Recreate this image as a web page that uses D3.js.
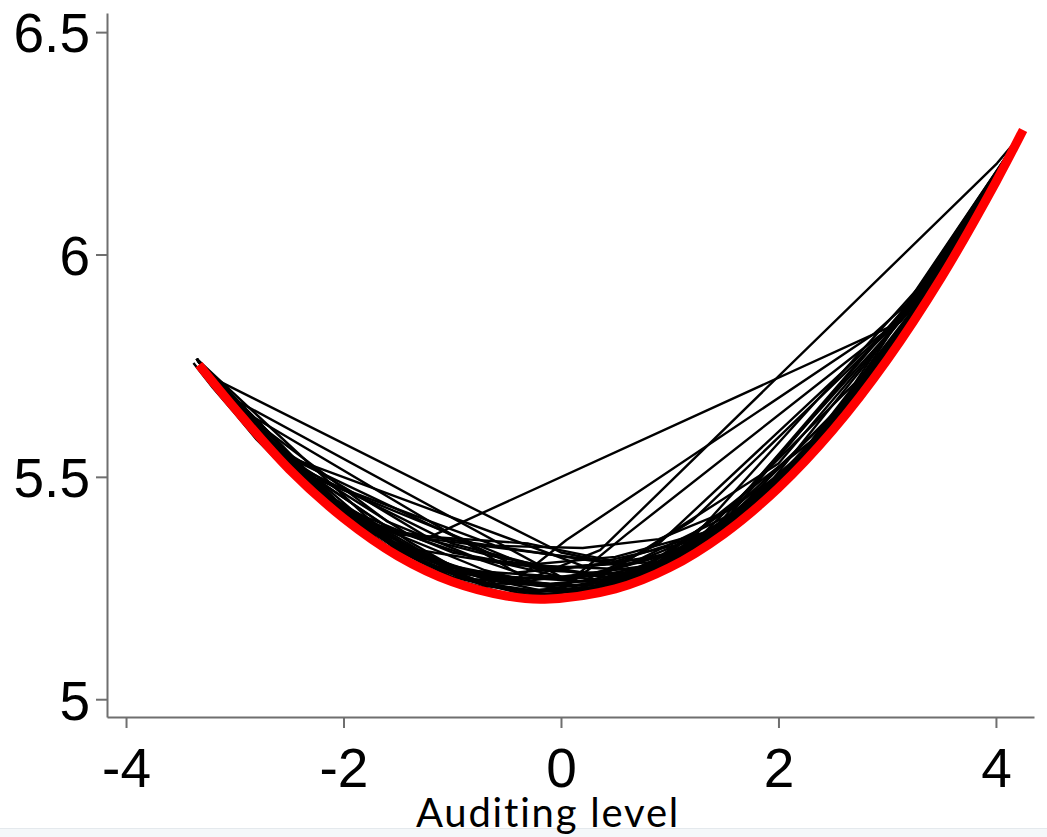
<!DOCTYPE html>
<html><head><meta charset="utf-8">
<script src="https://cdn.jsdelivr.net/npm/d3@7"></script>
<style>body{margin:0;background:#fff;overflow:hidden} svg{display:block}</style>
</head><body>
<svg id="c" width="1047" height="837"></svg>
<script>
// ---- data ----
const xTicks = [-4, -2, 0, 2, 4];
const yTicks = [5, 5.5, 6, 6.5];
const yTickLabels = ["5", "5.5", "6", "6.5"];
const xLabel = "Auditing level";

// red fitted curve
const fitX = [-3.33, -3.0, -2.5, -2.0, -1.5, -1.0, -0.5, -0.15, 0.5, 1.0, 1.5, 2.0, 2.5, 3.0, 3.5, 4.0, 4.25];
const fitY = [5.752, 5.654, 5.517, 5.407, 5.322, 5.264, 5.232, 5.225, 5.248, 5.296, 5.372, 5.475, 5.605, 5.763, 5.949, 6.163, 6.28];

// black sample curves (x, y vertices)
const sampleCurves = [
  [[-3.38,5.756],[-3.2,5.70],[-3.0,5.643],[-2.8,5.584],[-2.6,5.535],[-2.4,5.494],[-2.0,5.41],[-1.5,5.327],[-1.0,5.27],[-0.5,5.238],[0,5.232],[0.5,5.255],[1.0,5.30],[1.5,5.378],[2.0,5.48],[2.5,5.61],[3.0,5.768],[3.5,5.95],[4.0,6.165],[4.2,6.255]],
  [[-3.30,5.749],[-3.20,5.722],[0.0,5.33],[0.6,5.30],[1.4,5.38],[2.2,5.54],[3.0,5.78],[4.2,6.258]],
  [[-3.35,5.765],[-2.6,5.55],[-1.9,5.40],[-1.25,5.36],[3.12,5.848],[3.5,5.955],[4.0,6.168]],
  [[-3.35,5.765],[-3.11,5.688],[0.0,5.275],[0.6,5.285],[1.4,5.37],[2.2,5.535],[3.0,5.77],[3.8,6.08],[4.2,6.258]],
  [[-3.35,5.765],[-3.02,5.662],[-0.38,5.28],[0.4,5.26],[1.2,5.335],[2.0,5.49],[2.8,5.705],[3.6,6.0],[4.2,6.258]],
  [[-3.35,5.765],[-2.6,5.55],[-1.8,5.385],[-1.0,5.29],[-0.3,5.27],[0.36,5.335],[4.01,6.205],[4.2,6.26]],
  [[-3.35,5.765],[-2.8,5.60],[-2.0,5.43],[-1.2,5.31],[-0.4,5.27],[0.05,5.358],[2.87,5.82],[3.5,5.96],[4.2,6.258]],
  [[-3.35,5.765],[-2.4,5.50],[-1.4,5.33],[-0.6,5.265],[0.0,5.25],[0.6,5.37],[3.1,5.85],[3.6,6.0],[4.2,6.258]],
  [[-3.35,5.765],[-2.2,5.46],[-1.0,5.285],[0.2,5.25],[1.2,5.40],[3.15,5.86],[4.0,6.17]],
  [[-3.35,5.765],[-2.5,5.53],[-1.5,5.34],[-0.5,5.26],[0.8,5.30],[1.6,5.44],[3.3,5.90],[4.0,6.17]],
  [[-3.33,5.76],[-1.9,5.40],[-0.9,5.29],[0.3,5.27],[1.0,5.305],[3.73,6.045],[4.2,6.258]],
  [[-3.35,5.765],[-2.56,5.55],[-0.5,5.31],[0.5,5.27],[1.5,5.39],[2.5,5.62],[3.5,5.955],[4.2,6.258]],
  [[-3.35,5.765],[-2.56,5.55],[0.2,5.30],[1.0,5.31],[2.0,5.49],[3.0,5.77],[4.2,6.258]],
  [[-3.35,5.765],[-2.4,5.51],[-0.2,5.29],[0.7,5.28],[1.8,5.45],[2.6,5.65],[3.4,5.92],[4.2,6.258]],
  [[-3.35,5.765],[-2.7,5.58],[-1.2,5.36],[0.4,5.31],[1.3,5.36],[2.4,5.59],[4.2,6.258]],
  [[-3.35,5.765],[-2.3,5.48],[-1.6,5.38],[0.6,5.30],[1.6,5.42],[2.9,5.74],[4.2,6.258]],
  [[-3.35,5.765],[-2.0,5.43],[-1.0,5.33],[-0.1,5.29],[0.9,5.32],[2.1,5.52],[3.3,5.88],[4.2,6.258]],
  [[-3.35,5.765],[-2.8,5.60],[-2.2,5.455],[-1.6,5.345],[-1.0,5.275],[-0.4,5.24],[0.2,5.245],[0.8,5.285],[1.4,5.365],[2.0,5.485],[2.6,5.645],[3.2,5.84],[3.8,6.08],[4.2,6.258]],
  [[-3.35,5.765],[-2.6,5.555],[-1.9,5.40],[-1.3,5.31],[-0.7,5.255],[-0.1,5.235],[0.5,5.26],[1.1,5.32],[1.7,5.42],[2.3,5.56],[2.9,5.735],[3.5,5.955],[4.2,6.258]],
  [[-3.35,5.765],[-2.4,5.50],[-1.5,5.34],[-0.8,5.27],[-0.3,5.26],[0.3,5.255],[0.9,5.30],[1.5,5.385],[2.1,5.51],[2.7,5.67],[3.3,5.88],[4.2,6.258]],
  [[-3.35,5.765],[-3.0,5.66],[-2.0,5.43],[-1.1,5.30],[-0.5,5.27],[0.1,5.245],[0.7,5.29],[1.3,5.35],[2.0,5.48],[2.8,5.70],[3.6,5.995],[4.2,6.258]],
  [[-3.35,5.765],[-1.7,5.39],[-1.2,5.31],[-0.6,5.275],[0,5.27],[0.4,5.28],[1.0,5.31],[1.8,5.44],[2.5,5.61],[3.5,5.95],[4.2,6.258]],
  [[-3.35,5.765],[-2.5,5.535],[-1.4,5.355],[-0.9,5.285],[-0.2,5.255],[0.6,5.275],[1.2,5.33],[2.2,5.53],[3.1,5.80],[4.2,6.258]],
  [[-3.35,5.765],[-2.9,5.63],[-1.8,5.40],[-0.7,5.29],[0.0,5.245],[0.3,5.30],[1.1,5.33],[1.9,5.46],[2.7,5.675],[3.7,6.035],[4.2,6.258]],
  [[-3.35,5.765],[-2.1,5.45],[-1.3,5.335],[-0.4,5.30],[0.5,5.32],[1.4,5.38],[2.4,5.585],[3.4,5.915],[4.2,6.258]],
  [[-3.35,5.765],[-2.7,5.575],[-2.1,5.44],[-1.5,5.335],[-0.9,5.27],[-0.3,5.245],[0.3,5.25],[0.9,5.295],[1.5,5.385],[2.1,5.515],[2.7,5.675],[3.3,5.885],[3.9,6.12],[4.2,6.258]],
  [[-3.35,5.765],[-2.3,5.48],[-1.7,5.37],[-1.1,5.29],[-0.5,5.25],[0.1,5.24],[0.7,5.275],[1.3,5.345],[1.9,5.46],[2.5,5.62],[3.1,5.81],[3.7,6.04],[4.2,6.258]],
  [[-3.35,5.765],[-2.9,5.625],[-2.3,5.49],[-1.7,5.38],[-1.1,5.31],[-0.6,5.27],[-0.1,5.26],[0.4,5.27],[0.9,5.31],[1.4,5.375],[2.0,5.50],[2.6,5.66],[3.2,5.86],[4.2,6.258]],
  [[-3.35,5.765],[-2.0,5.42],[-1.4,5.325],[-0.8,5.265],[-0.2,5.235],[0.4,5.25],[1.0,5.305],[1.6,5.40],[2.2,5.535],[2.8,5.71],[3.4,5.925],[4.2,6.258]],
  [[-3.35,5.765],[-2.56,5.55],[-1.4,5.37],[-0.6,5.32],[0.3,5.28],[1.2,5.34],[2.2,5.54],[3.2,5.86],[4.2,6.258]],
  [[-3.35,5.765],[-2.6,5.545],[-1.0,5.35],[-0.2,5.30],[0.8,5.29],[1.5,5.40],[3.1,5.86],[4.2,6.258]],
  [[-3.35,5.765],[-2.9,5.64],[-1.6,5.40],[-0.8,5.32],[0.1,5.27],[1.0,5.33],[2.3,5.58],[3.25,5.88],[4.2,6.258]],
  [[-3.35,5.765],[-2.2,5.455],[-1.2,5.30],[-0.2,5.245],[0.8,5.28],[1.4,5.38],[3.2,5.89],[4.0,6.17]],
  [[-3.35,5.765],[-2.4,5.49],[-1.6,5.355],[-0.6,5.26],[0.4,5.255],[1.1,5.33],[1.9,5.48],[3.3,5.905],[4.2,6.258]],
  [[-3.35,5.765],[-1.8,5.38],[-0.8,5.28],[0.2,5.265],[0.9,5.35],[3.0,5.83],[3.6,6.005],[4.2,6.258]],
  [[-3.35,5.765],[-2.8,5.59],[-1.9,5.41],[-0.4,5.285],[0.6,5.31],[2.0,5.53],[3.1,5.845],[4.2,6.258]],
  [[-3.35,5.765],[-2.3,5.50],[-0.6,5.345],[0.2,5.34],[0.9,5.36],[1.6,5.43],[2.6,5.66],[3.3,5.89],[4.2,6.258]],
  [[-3.35,5.765],[-2.7,5.57],[-1.5,5.37],[-0.3,5.35],[0.5,5.31],[1.3,5.37],[2.7,5.71],[4.2,6.258]]
];

// ---- drawing ----
const svg = d3.select("#c");
const x = d3.scaleLinear().domain([-4.175, 4.35]).range([107, 1034]);
const y = d3.scaleLinear().domain([4.96, 6.543]).range([717, 13]);

const axisColor = "#6f6f6f";

// bottom band
svg.append("rect").attr("x", 0).attr("y", 828).attr("width", 1047).attr("height", 9).attr("fill", "#f4f7f9");
svg.append("line").attr("x1", 0).attr("x2", 1047).attr("y1", 828.5).attr("y2", 828.5).attr("stroke", "#e4e9ed");

const line = d3.line().x(d => x(d[0])).y(d => y(d[1]));

svg.append("g").selectAll("path").data(sampleCurves).join("path")
  .attr("d", line)
  .attr("fill", "none")
  .attr("stroke", "#000")
  .attr("stroke-width", 2.4)
  .attr("stroke-linejoin", "round");

const fitData = fitX.map((v, i) => [v, fitY[i]]);
svg.append("path")
  .datum(fitData)
  .attr("d", d3.line().x(d => x(d[0])).y(d => y(d[1])).curve(d3.curveCatmullRom))
  .attr("fill", "none")
  .attr("stroke", "#ff0000")
  .attr("stroke-width", 9)
  .attr("stroke-linecap", "butt");

// axes
const yAxis = d3.axisLeft(y).tickValues(yTicks).tickSize(11).tickSizeOuter(0).tickPadding(6)
  .tickFormat((d, i) => yTickLabels[i]);
const gy = svg.append("g").attr("transform", "translate(107,0)").call(yAxis);
const xAxis = d3.axisBottom(x).tickValues(xTicks).tickSize(11).tickSizeOuter(0)
  .tickFormat(d => d3.format("d")(d).replace("−", "-"));
const gx = svg.append("g").attr("transform", "translate(0,717)").call(xAxis);

[gx, gy].forEach(g => {
  g.select(".domain").attr("stroke", axisColor).attr("stroke-width", 2);
  g.selectAll(".tick line").attr("stroke", axisColor).attr("stroke-width", 2);
  g.selectAll("text").attr("fill", "#000").attr("font-family", "'Liberation Sans', Arial, sans-serif");
});
gy.selectAll("text").attr("font-size", 55).attr("dy", "0.36em");
gx.selectAll("text").attr("font-size", 55).attr("y", 70).attr("dy", 0);

svg.append("text")
  .attr("x", 548).attr("y", 827)
  .attr("text-anchor", "middle")
  .attr("font-family", "Lato, 'Open Sans', sans-serif")
  .attr("font-size", 40)
  .attr("letter-spacing", "1.8px")
  .attr("fill", "#000")
  .text(xLabel);
</script>
</body></html>
